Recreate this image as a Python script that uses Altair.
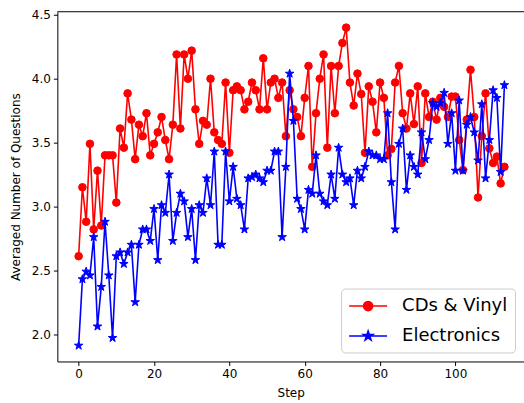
import math
import altair as alt
import pandas as pd

# ---------------- data ----------------
steps = list(range(114))

cds_vinyl = [
    2.61, 3.15, 2.88, 3.49, 2.82, 3.28, 2.85, 3.40, 3.40, 3.40,
    3.03, 3.61, 3.46, 3.885, 3.68, 3.37, 3.64, 3.55, 3.73, 3.40,
    3.49, 3.58, 3.70, 3.52, 3.37, 3.64, 4.19, 3.61, 4.19, 4.00,
    4.22, 3.76, 3.49, 3.67, 3.64, 4.00, 3.58, 3.52, 3.49, 3.97,
    3.42, 3.91, 3.94, 3.91, 3.76, 3.82, 3.97, 3.91, 3.76, 4.16,
    3.76, 3.97, 4.00, 3.85, 3.97, 3.55, 3.91, 3.76, 3.70, 3.55,
    3.85, 4.10, 3.31, 3.73, 4.00, 4.19, 3.46, 4.10, 3.73, 4.10,
    4.28, 4.40, 3.97, 3.79, 4.04, 3.88, 3.42, 3.94, 3.82, 3.58,
    3.97, 3.85, 3.40, 3.45, 3.97, 4.10, 3.73, 3.61, 3.885, 3.645,
    3.94, 3.34, 3.885, 3.70, 3.82, 3.68, 3.85, 3.78, 3.70, 3.86,
    3.86, 3.52, 3.285, 3.68, 4.07, 3.70, 3.07, 3.55, 3.885, 3.455,
    3.34, 3.39, 3.18, 3.31,
]

electronics = [
    1.91, 2.43, 2.49, 2.46, 2.76, 2.06, 2.37, 2.88, 2.46, 1.97,
    2.61, 2.64, 2.55, 2.64, 2.70, 2.25, 2.70, 2.82, 2.82, 2.73,
    2.98, 2.58, 3.01, 2.95, 3.25, 2.73, 2.95, 3.10, 3.04, 2.76,
    2.98, 2.58, 3.01, 2.95, 3.22, 3.01, 3.43, 2.70, 2.70, 3.43,
    3.04, 3.31, 3.06, 3.01, 2.82, 3.22, 3.23, 3.25, 3.22, 3.19,
    3.28, 3.28, 3.43, 3.43, 2.76, 3.31, 4.04, 3.67, 3.06, 2.98,
    2.82, 3.13, 3.10, 3.40, 3.10, 3.04, 3.01, 3.25, 3.06, 3.46,
    3.25, 3.19, 3.22, 3.01, 3.28, 3.22, 3.31, 3.43, 3.40, 3.40,
    3.37, 3.37, 3.73, 3.19, 2.82, 3.49, 3.61, 3.13, 3.40, 3.31,
    3.25, 3.58, 3.37, 3.52, 3.81, 3.78, 3.81, 3.89, 3.49, 3.73,
    3.28, 3.83, 3.28, 3.64, 3.70, 3.58, 3.36, 3.80, 3.22, 3.52,
    3.91, 3.85, 3.27, 3.95,
]

series_names = ["CDs & Vinyl", "Electronics"]
series_colors = ["#ff0000", "#0000ff"]
x_ticks = [0, 20, 40, 60, 80, 100]
y_ticks = [2.0, 2.5, 3.0, 3.5, 4.0, 4.5]

df = pd.DataFrame({
    "step": steps + steps,
    "value": cds_vinyl + electronics,
    "series": [series_names[0]] * len(steps) + [series_names[1]] * len(steps),
})


# ---------------- marker shapes ----------------
def star_path(cx=0.0, r=1.0, inner=0.381966):
    pts = []
    for k in range(10):
        rr = r if k % 2 == 0 else r * inner
        a = math.pi * k / 5
        pts.append((cx + rr * math.sin(a), -rr * math.cos(a)))
    return "M" + "L".join(f"{x:.4f},{y:.4f}" for x, y in pts) + "Z"


def circle_path(cx=0.0, r=1.0):
    return (f"M{cx + r:.4f},0A{r},{r},0,1,1,{cx - r:.4f},0"
            f"A{r},{r},0,1,1,{cx + r:.4f},0Z")


STAR = star_path()
LEG_CIRCLE = "M-1,0L3,0" + circle_path(1.0, 0.48)
LEG_STAR = "M-1,0L3,0" + star_path(1.0, 0.52)

W, H = 467, 350

x_scale = alt.Scale(domain=[-5.65, 118.2], nice=False, zero=False)
y_scale = alt.Scale(domain=[1.7855, 4.5245], nice=False, zero=False)

x_enc = alt.X("step:Q", scale=x_scale,
              axis=alt.Axis(values=x_ticks, format="d", title="Step", titlePadding=8))
y_enc = alt.Y("value:Q", scale=y_scale,
              axis=alt.Axis(values=y_ticks, format=".1f",
                            title="Averaged Number of Questions", titlePadding=9))

layers = []
shapes = ["circle", STAR]
sizes = [58, 80]
for name, col, shp, sz in zip(series_names, series_colors, shapes, sizes):
    base = alt.Chart(df).transform_filter(alt.datum.series == name)
    layers.append(base.mark_line(color=col, strokeWidth=1.6).encode(x=x_enc, y=y_enc))
    layers.append(base.mark_point(shape=shp, filled=True, fill=col, stroke=col,
                                  strokeWidth=1, size=sz, opacity=1)
                  .encode(x=x_enc, y=y_enc))

leg = alt.Legend(title=None, orient="none", legendX=284, legendY=277,
                 labelFontSize=18, labelFont="DejaVu Sans", labelColor="black",
                 symbolStrokeWidth=1.6, symbolSize=361, symbolOpacity=1,
                 padding=7, rowPadding=10, labelOffset=33,
                 strokeColor="#cccccc", fillColor="white", cornerRadius=4)

legend_layer = alt.Chart(df).transform_filter("false").mark_point(
    filled=True, opacity=1, strokeWidth=1.6, size=361
).encode(
    x=x_enc, y=y_enc,
    fill=alt.Fill("series:N", scale=alt.Scale(domain=series_names, range=series_colors), legend=leg),
    stroke=alt.Stroke("series:N", scale=alt.Scale(domain=series_names, range=series_colors), legend=leg),
    shape=alt.Shape("series:N", scale=alt.Scale(domain=series_names, range=[LEG_CIRCLE, LEG_STAR]), legend=leg),
)
layers.append(legend_layer)

top_spine = alt.Chart(pd.DataFrame({"a": [0]})).mark_rule(color="black", strokeWidth=1).encode(
    x=alt.value(0), x2=alt.value(W), y=alt.value(0)
)
layers.append(top_spine)

chart = alt.layer(*layers).properties(
    width=W, height=H,
    autosize="none",
    padding={"left": 57.4, "top": 11.6, "right": 0, "bottom": 41.4},
).configure_view(stroke="transparent").configure_axis(
    domainColor="black", tickColor="black", labelColor="black", titleColor="black",
    labelFont="DejaVu Sans", titleFont="DejaVu Sans", labelFontSize=12, titleFontSize=12,
    titleFontWeight="normal", tickSize=4, labelPadding=3, grid=False,
    domainWidth=1, tickWidth=1,
)

chart.save("out.html", embed_options={"renderer": "svg", "actions": False})
